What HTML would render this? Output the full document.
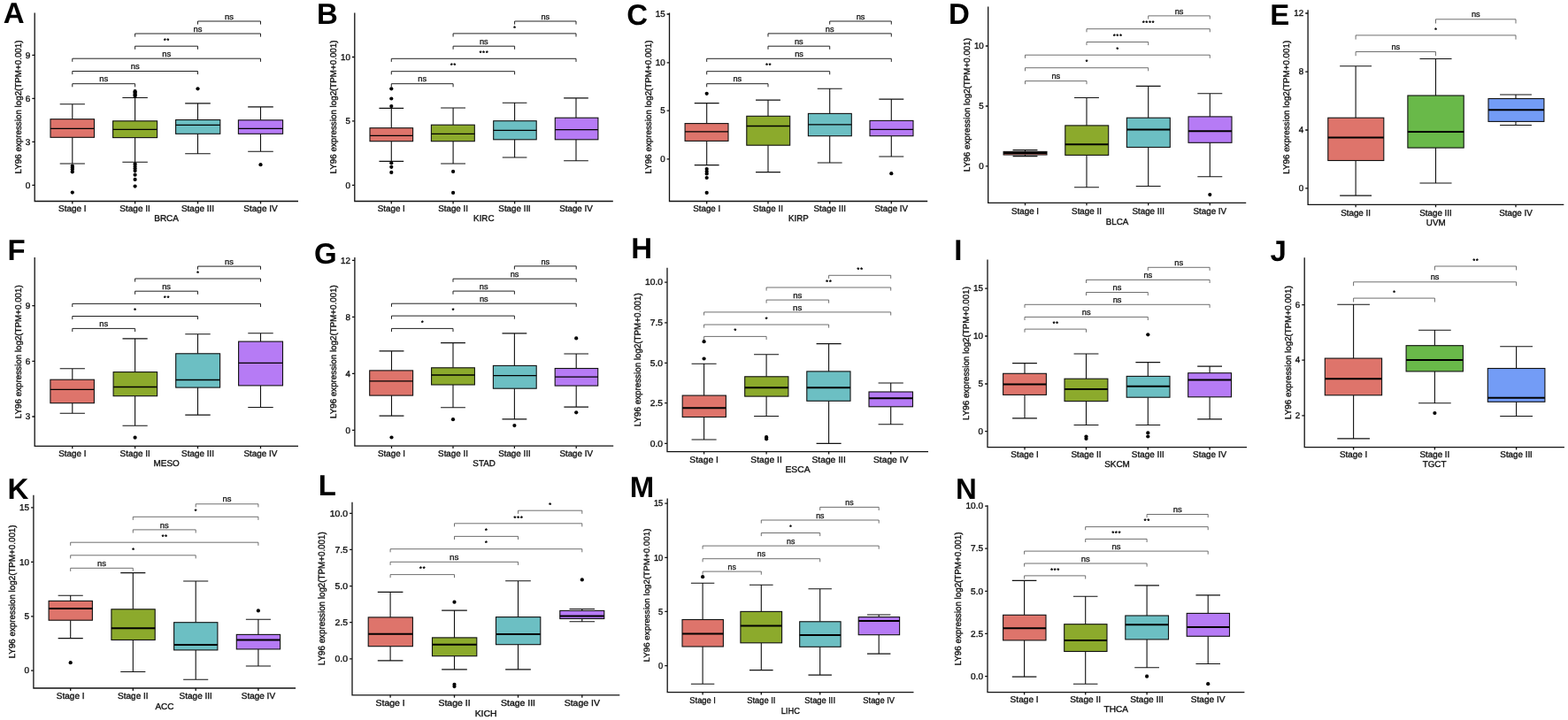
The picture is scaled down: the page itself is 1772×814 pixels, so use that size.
<!DOCTYPE html>
<html><head><meta charset="utf-8"><title>LY96 expression by stage</title>
<style>
html,body{margin:0;padding:0;background:#fff;}
body{width:1772px;height:814px;overflow:hidden;}
svg{display:block;text-rendering:geometricPrecision;}
.lt{font-family:"Liberation Sans",Arial,sans-serif;font-weight:bold;font-size:33px;fill:#000;}
.tk{font-family:"Liberation Sans",Arial,sans-serif;font-size:9.8px;fill:#111;stroke:#111;stroke-width:0.35px;}
.bl{font-family:"Liberation Sans",Arial,sans-serif;font-size:9.2px;fill:#111;stroke:#111;stroke-width:0.3px;}
.st{font-family:"Liberation Sans",Arial,sans-serif;font-size:6.6px;letter-spacing:1.0px;fill:#111;stroke:#111;stroke-width:0.4px;}
.ax{fill:none;stroke:#111;stroke-width:1.3;}
.wk{fill:none;stroke:#111;stroke-width:1.1;}
.bx{stroke:#111;stroke-width:1.1;}
</style></head>
<body>
<svg width="1772" height="814" viewBox="0 0 1772 814">
<rect width="1772" height="814" fill="#fff"/>
<text x="3.81" y="26.4" class="lt">A</text>
<path d="M39.2 14.4V227.5H337" class="ax"/>
<text transform="translate(34.3 212.5) scale(1.02 1)" class="tk" text-anchor="end">0</text>
<text transform="translate(34.3 163.5) scale(1.02 1)" class="tk" text-anchor="end">3</text>
<text transform="translate(34.3 114.6) scale(1.02 1)" class="tk" text-anchor="end">6</text>
<text transform="translate(34.3 65.6) scale(1.02 1)" class="tk" text-anchor="end">9</text>
<path d="M36.3 209.3H39.2M36.3 160.3H39.2M36.3 111.4H39.2M36.3 62.4H39.2M81.8 227.5V230.4M152.6 227.5V230.4M223.5 227.5V230.4M294.5 227.5V230.4" class="ax"/>
<text transform="translate(23.54 120.95) rotate(-90) scale(1 1.02)" class="tk" text-anchor="middle">LY96 expression log2(TPM+0.001)</text>
<text transform="translate(81.8 238.7) scale(1.02 1)" class="tk" text-anchor="middle">Stage I</text>
<text transform="translate(152.6 238.7) scale(1.02 1)" class="tk" text-anchor="middle">Stage II</text>
<text transform="translate(223.5 238.7) scale(1.02 1)" class="tk" text-anchor="middle">Stage III</text>
<text transform="translate(294.5 238.7) scale(1.02 1)" class="tk" text-anchor="middle">Stage IV</text>
<text transform="translate(188.1 250.4) scale(1.02 1)" class="tk" text-anchor="middle">BRCA</text>
<path d="M81.8 117.7V134.7M81.8 155.3V185M67.69 117.7H95.91M67.69 185H95.91" class="wk"/>
<rect x="57" y="134.7" width="49.5" height="20.6" fill="#DE746B" class="bx"/>
<path d="M57 145.4H106.5" stroke="#000" stroke-width="1.3"/>
<circle cx="81.8" cy="187.6" r="2.1"/>
<circle cx="81.8" cy="189.6" r="2.1"/>
<circle cx="81.8" cy="191.5" r="2.1"/>
<circle cx="81.8" cy="194.3" r="2.1"/>
<circle cx="81.8" cy="217.6" r="2.1"/>
<path d="M152.6 110.5V136.8M152.6 155.6V183.3M138.35 110.5H166.85M138.35 183.3H166.85" class="wk"/>
<rect x="127.6" y="136.8" width="50" height="18.8" fill="#8CAA2C" class="bx"/>
<path d="M127.6 146.3H177.6" stroke="#000" stroke-width="1.3"/>
<circle cx="152.6" cy="103.2" r="2.1"/>
<circle cx="152.6" cy="104.5" r="2.1"/>
<circle cx="152.6" cy="105.9" r="2.1"/>
<circle cx="152.6" cy="107.3" r="2.1"/>
<circle cx="152.6" cy="108.7" r="2.1"/>
<circle cx="152.6" cy="185.3" r="2.1"/>
<circle cx="152.6" cy="187.9" r="2.1"/>
<circle cx="152.6" cy="190.5" r="2.1"/>
<circle cx="152.6" cy="193.1" r="2.1"/>
<circle cx="152.6" cy="197.7" r="2.1"/>
<circle cx="152.6" cy="202.9" r="2.1"/>
<circle cx="152.6" cy="210.6" r="2.1"/>
<path d="M223.5 116.9V135.5M223.5 151.3V173.8M209.19 116.9H237.81M209.19 173.8H237.81" class="wk"/>
<rect x="198.6" y="135.5" width="50.2" height="15.8" fill="#6CBFC3" class="bx"/>
<path d="M198.6 141.3H248.8" stroke="#000" stroke-width="1.3"/>
<circle cx="223.5" cy="100.3" r="2.1"/>
<path d="M294.5 120.9V135.8M294.5 151.3V171.2M280.19 120.9H308.81M280.19 171.2H308.81" class="wk"/>
<rect x="269.4" y="135.8" width="50.2" height="15.5" fill="#B67BF5" class="bx"/>
<path d="M269.4 145.3H319.6" stroke="#000" stroke-width="1.3"/>
<circle cx="294.5" cy="186.2" r="2.1"/>
<path d="M81.8 98.3V94.7H152.6V98.3" fill="none" stroke="#222" stroke-width="1"/>
<text transform="translate(117.2 92.3) scale(1.02 1)" class="bl" text-anchor="middle">ns</text>
<path d="M81.8 84.1V80.5H223.5V84.1" fill="none" stroke="#222" stroke-width="1"/>
<text transform="translate(152.65 78.1) scale(1.02 1)" class="bl" text-anchor="middle">ns</text>
<path d="M81.8 69.8V66.2H294.5V69.8" fill="none" stroke="#222" stroke-width="1"/>
<text transform="translate(188.15 63.8) scale(1.02 1)" class="bl" text-anchor="middle">ns</text>
<path d="M152.6 55.8V52.2H223.5V55.8" fill="none" stroke="#222" stroke-width="1"/>
<text transform="translate(188.55 47.9) scale(1.02 1)" class="st" text-anchor="middle">**</text>
<path d="M152.6 41.6V38H294.5V41.6" fill="none" stroke="#222" stroke-width="1"/>
<text transform="translate(223.55 35.6) scale(1.02 1)" class="bl" text-anchor="middle">ns</text>
<path d="M223.5 27.6V24H294.5V27.6" fill="none" stroke="#222" stroke-width="1"/>
<text transform="translate(259 21.6) scale(1.02 1)" class="bl" text-anchor="middle">ns</text>
<text x="358.09" y="27.2" class="lt">B</text>
<path d="M400.8 14.4V227.5H692.8" class="ax"/>
<text transform="translate(395.9 212.5)" class="tk" text-anchor="end">0</text>
<text transform="translate(395.9 140)" class="tk" text-anchor="end">5</text>
<text transform="translate(395.9 67.7)" class="tk" text-anchor="end">10</text>
<path d="M397.9 209.3H400.8M397.9 136.8H400.8M397.9 64.5H400.8M442.3 227.5V230.4M512.1 227.5V230.4M581.6 227.5V230.4M651 227.5V230.4" class="ax"/>
<text transform="translate(379.8 120.95) rotate(-90)" class="tk" text-anchor="middle">LY96 expression log2(TPM+0.001)</text>
<text transform="translate(442.3 238.7)" class="tk" text-anchor="middle">Stage I</text>
<text transform="translate(512.1 238.7)" class="tk" text-anchor="middle">Stage II</text>
<text transform="translate(581.6 238.7)" class="tk" text-anchor="middle">Stage III</text>
<text transform="translate(651 238.7)" class="tk" text-anchor="middle">Stage IV</text>
<text transform="translate(546.8 250.4)" class="tk" text-anchor="middle">KIRC</text>
<path d="M442.3 122.4V144.7M442.3 159.7V182.4M428.45 122.4H456.15M428.45 182.4H456.15" class="wk"/>
<rect x="418" y="144.7" width="48.6" height="15" fill="#DE746B" class="bx"/>
<path d="M418 153.4H466.6" stroke="#000" stroke-width="1.3"/>
<circle cx="442.3" cy="100.3" r="2.1"/>
<circle cx="442.3" cy="111.5" r="2.1"/>
<circle cx="442.3" cy="120.1" r="2.1"/>
<circle cx="442.3" cy="184.3" r="2.1"/>
<circle cx="442.3" cy="188.8" r="2.1"/>
<circle cx="442.3" cy="194.9" r="2.1"/>
<path d="M512.1 122V141.2M512.1 159.7V185M498.16 122H526.04M498.16 185H526.04" class="wk"/>
<rect x="487.4" y="141.2" width="48.9" height="18.5" fill="#8CAA2C" class="bx"/>
<path d="M487.4 151.4H536.3" stroke="#000" stroke-width="1.3"/>
<circle cx="512.1" cy="193.9" r="2.1"/>
<circle cx="512.1" cy="217.9" r="2.1"/>
<path d="M581.6 116.3V136.7M581.6 157.8V178M567.78 116.3H595.42M567.78 178H595.42" class="wk"/>
<rect x="557.7" y="136.7" width="48.5" height="21.1" fill="#6CBFC3" class="bx"/>
<path d="M557.7 147.3H606.2" stroke="#000" stroke-width="1.3"/>
<path d="M651 110.9V133.2M651 157.8V181.8M637.15 110.9H664.85M637.15 181.8H664.85" class="wk"/>
<rect x="627.3" y="133.2" width="48.6" height="24.6" fill="#B67BF5" class="bx"/>
<path d="M627.3 146.6H675.9" stroke="#000" stroke-width="1.3"/>
<path d="M442.3 98.3V94.7H512.1V98.3" fill="none" stroke="#222" stroke-width="1"/>
<text transform="translate(477.2 92.3)" class="bl" text-anchor="middle">ns</text>
<path d="M442.3 84.3V80.7H581.6V84.3" fill="none" stroke="#222" stroke-width="1"/>
<text transform="translate(512.45 76.4)" class="st" text-anchor="middle">**</text>
<path d="M442.3 69.9V66.3H651V69.9" fill="none" stroke="#222" stroke-width="1"/>
<text transform="translate(547.15 62)" class="st" text-anchor="middle">***</text>
<path d="M512.1 55.8V52.2H581.6V55.8" fill="none" stroke="#222" stroke-width="1"/>
<text transform="translate(546.85 49.8)" class="bl" text-anchor="middle">ns</text>
<path d="M512.1 41.5V37.9H651V41.5" fill="none" stroke="#222" stroke-width="1"/>
<text transform="translate(582.05 33.6)" class="st" text-anchor="middle">*</text>
<path d="M581.6 27.6V24H651V27.6" fill="none" stroke="#222" stroke-width="1"/>
<text transform="translate(616.3 21.6)" class="bl" text-anchor="middle">ns</text>
<text x="708.28" y="28" class="lt">C</text>
<path d="M756.5 14.4V227.5H1048.2" class="ax"/>
<text transform="translate(751.6 183.1)" class="tk" text-anchor="end">0</text>
<text transform="translate(751.6 128.4)" class="tk" text-anchor="end">5</text>
<text transform="translate(751.6 74.1)" class="tk" text-anchor="end">10</text>
<text transform="translate(751.6 19.2)" class="tk" text-anchor="end">15</text>
<path d="M753.6 179.9H756.5M753.6 125.2H756.5M753.6 70.9H756.5M753.6 16H756.5M798.7 227.5V230.4M868 227.5V230.4M937.7 227.5V230.4M1007.3 227.5V230.4" class="ax"/>
<text transform="translate(735.5 120.95) rotate(-90)" class="tk" text-anchor="middle">LY96 expression log2(TPM+0.001)</text>
<text transform="translate(798.7 238.7)" class="tk" text-anchor="middle">Stage I</text>
<text transform="translate(868 238.7)" class="tk" text-anchor="middle">Stage II</text>
<text transform="translate(937.7 238.7)" class="tk" text-anchor="middle">Stage III</text>
<text transform="translate(1007.3 238.7)" class="tk" text-anchor="middle">Stage IV</text>
<text transform="translate(902.35 250.4)" class="tk" text-anchor="middle">KIRP</text>
<path d="M798.7 116.6V139.6M798.7 159.4V186.6M784.76 116.6H812.64M784.76 186.6H812.64" class="wk"/>
<rect x="774.1" y="139.6" width="48.9" height="19.8" fill="#DE746B" class="bx"/>
<path d="M774.1 148.9H823" stroke="#000" stroke-width="1.3"/>
<circle cx="798.7" cy="105.8" r="2.1"/>
<circle cx="798.7" cy="191" r="2.1"/>
<circle cx="798.7" cy="193.9" r="2.1"/>
<circle cx="798.7" cy="196.5" r="2.1"/>
<circle cx="798.7" cy="201" r="2.1"/>
<circle cx="798.7" cy="217.9" r="2.1"/>
<path d="M868 113.1V131.3M868 164.2V194.6M854.06 113.1H881.94M854.06 194.6H881.94" class="wk"/>
<rect x="843.8" y="131.3" width="48.9" height="32.9" fill="#8CAA2C" class="bx"/>
<path d="M843.8 142.5H892.7" stroke="#000" stroke-width="1.3"/>
<path d="M937.7 100.3V128.4M937.7 153.7V184M923.76 100.3H951.64M923.76 184H951.64" class="wk"/>
<rect x="913.4" y="128.4" width="48.9" height="25.3" fill="#6CBFC3" class="bx"/>
<path d="M913.4 140.9H962.3" stroke="#000" stroke-width="1.3"/>
<path d="M1007.3 112.1V136.4M1007.3 153.7V177M993.33 112.1H1021.26M993.33 177H1021.26" class="wk"/>
<rect x="983" y="136.4" width="49" height="17.3" fill="#B67BF5" class="bx"/>
<path d="M983 146.3H1032" stroke="#000" stroke-width="1.3"/>
<circle cx="1007.3" cy="196.2" r="2.1"/>
<path d="M798.7 98.3V94.7H868V98.3" fill="none" stroke="#222" stroke-width="1"/>
<text transform="translate(833.35 92.3)" class="bl" text-anchor="middle">ns</text>
<path d="M798.7 84.3V80.7H937.7V84.3" fill="none" stroke="#222" stroke-width="1"/>
<text transform="translate(868.7 76.4)" class="st" text-anchor="middle">**</text>
<path d="M798.7 69.9V66.3H1007.3V69.9" fill="none" stroke="#222" stroke-width="1"/>
<text transform="translate(903 63.9)" class="bl" text-anchor="middle">ns</text>
<path d="M868 55.8V52.2H937.7V55.8" fill="none" stroke="#222" stroke-width="1"/>
<text transform="translate(902.85 49.8)" class="bl" text-anchor="middle">ns</text>
<path d="M868 41.5V37.9H1007.3V41.5" fill="none" stroke="#222" stroke-width="1"/>
<text transform="translate(937.65 35.5)" class="bl" text-anchor="middle">ns</text>
<path d="M937.7 27.6V24H1007.3V27.6" fill="none" stroke="#222" stroke-width="1"/>
<text transform="translate(972.5 21.6)" class="bl" text-anchor="middle">ns</text>
<text x="1072.09" y="27.2" class="lt">D</text>
<path d="M1116.7 7.5V229.4H1408.2" class="ax"/>
<text transform="translate(1111.8 191.1)" class="tk" text-anchor="end">0</text>
<text transform="translate(1111.8 123.2)" class="tk" text-anchor="end">5</text>
<text transform="translate(1111.8 55.2)" class="tk" text-anchor="end">10</text>
<path d="M1113.8 187.9H1116.7M1113.8 120H1116.7M1113.8 52H1116.7M1158.5 229.4V232.3M1228 229.4V232.3M1297.7 229.4V232.3M1367.3 229.4V232.3" class="ax"/>
<text transform="translate(1095.7 118.45) rotate(-90)" class="tk" text-anchor="middle">LY96 expression log2(TPM+0.001)</text>
<text transform="translate(1158.5 241.9)" class="tk" text-anchor="middle">Stage I</text>
<text transform="translate(1228 241.9)" class="tk" text-anchor="middle">Stage II</text>
<text transform="translate(1297.7 241.9)" class="tk" text-anchor="middle">Stage III</text>
<text transform="translate(1367.3 241.9)" class="tk" text-anchor="middle">Stage IV</text>
<text transform="translate(1262.45 254)" class="tk" text-anchor="middle">BLCA</text>
<path d="M1158.5 169.6V171.4M1158.5 175V176.6M1144.56 169.6H1172.44M1144.56 176.6H1172.44" class="wk"/>
<rect x="1134.1" y="171.4" width="48.9" height="3.6" fill="#DE746B" class="bx"/>
<path d="M1134.1 173H1183" stroke="#000" stroke-width="2"/>
<path d="M1228 110.5V141.9M1228 175.4V211.8M1214.06 110.5H1241.94M1214.06 211.8H1241.94" class="wk"/>
<rect x="1203.8" y="141.9" width="48.9" height="33.5" fill="#8CAA2C" class="bx"/>
<path d="M1203.8 163.3H1252.7" stroke="#000" stroke-width="2"/>
<path d="M1297.7 97.4V133.2M1297.7 166.5V210.5M1283.76 97.4H1311.64M1283.76 210.5H1311.64" class="wk"/>
<rect x="1273.4" y="133.2" width="48.9" height="33.3" fill="#6CBFC3" class="bx"/>
<path d="M1273.4 146.6H1322.3" stroke="#000" stroke-width="2"/>
<path d="M1367.3 105.8V131.9M1367.3 161.3V199.7M1353.34 105.8H1381.26M1353.34 199.7H1381.26" class="wk"/>
<rect x="1343" y="131.9" width="49" height="29.4" fill="#B67BF5" class="bx"/>
<path d="M1343 148.2H1392" stroke="#000" stroke-width="2"/>
<circle cx="1367.3" cy="220.1" r="2.1"/>
<path d="M1158.5 95.2V91.6H1228V95.2" fill="none" stroke="#555" stroke-width="0.85"/>
<text transform="translate(1193.25 89.2)" class="bl" text-anchor="middle">ns</text>
<path d="M1158.5 80.3V76.7H1297.7V80.3" fill="none" stroke="#555" stroke-width="0.85"/>
<text transform="translate(1228.6 72.4)" class="st" text-anchor="middle">*</text>
<path d="M1158.5 65.8V62.2H1367.3V65.8" fill="none" stroke="#555" stroke-width="0.85"/>
<text transform="translate(1263.4 57.9)" class="st" text-anchor="middle">*</text>
<path d="M1228 51.1V47.5H1297.7V51.1" fill="none" stroke="#555" stroke-width="0.85"/>
<text transform="translate(1263.35 43.2)" class="st" text-anchor="middle">***</text>
<path d="M1228 36.3V32.7H1367.3V36.3" fill="none" stroke="#555" stroke-width="0.85"/>
<text transform="translate(1298.15 28.4)" class="st" text-anchor="middle">****</text>
<path d="M1297.7 21.5V17.9H1367.3V21.5" fill="none" stroke="#555" stroke-width="0.85"/>
<text transform="translate(1332.5 15.5)" class="bl" text-anchor="middle">ns</text>
<text x="1435.29" y="28.1" class="lt">E</text>
<path d="M1478.1 11.2V231.3H1767.3" class="ax"/>
<text transform="translate(1473.2 216)" class="tk" text-anchor="end">0</text>
<text transform="translate(1473.2 150.2)" class="tk" text-anchor="end">4</text>
<text transform="translate(1473.2 84.4)" class="tk" text-anchor="end">8</text>
<text transform="translate(1473.2 18.2)" class="tk" text-anchor="end">12</text>
<path d="M1475.2 212.8H1478.1M1475.2 147H1478.1M1475.2 81.2H1478.1M1475.2 15H1478.1M1532.1 231.3V234.2M1622.5 231.3V234.2M1713 231.3V234.2" class="ax"/>
<text transform="translate(1457.1 121.25) rotate(-90)" class="tk" text-anchor="middle">LY96 expression log2(TPM+0.001)</text>
<text transform="translate(1532.1 243.5)" class="tk" text-anchor="middle">Stage II</text>
<text transform="translate(1622.5 243.5)" class="tk" text-anchor="middle">Stage III</text>
<text transform="translate(1713 243.5)" class="tk" text-anchor="middle">Stage IV</text>
<text transform="translate(1622.7 255)" class="tk" text-anchor="middle">UVM</text>
<path d="M1532.1 74.8V133.2M1532.1 181.5V221.1M1514.14 74.8H1550.05M1514.14 221.1H1550.05" class="wk"/>
<rect x="1500.8" y="133.2" width="63" height="48.3" fill="#DE746B" class="bx"/>
<path d="M1500.8 155.6H1563.8" stroke="#000" stroke-width="2"/>
<path d="M1622.5 66.5V108M1622.5 167.1V207M1604.46 66.5H1640.54M1604.46 207H1640.54" class="wk"/>
<rect x="1590.9" y="108" width="63.3" height="59.1" fill="#69B949" class="bx"/>
<path d="M1590.9 148.9H1654.2" stroke="#000" stroke-width="2"/>
<path d="M1713 107V111.5M1713 137.4V141.5M1695.07 107H1730.93M1695.07 141.5H1730.93" class="wk"/>
<rect x="1682" y="111.5" width="62.9" height="25.9" fill="#739CF6" class="bx"/>
<path d="M1682 124.3H1744.9" stroke="#000" stroke-width="2"/>
<path d="M1532.1 63.2V58.5H1622.5V63.2" fill="none" stroke="#555" stroke-width="0.85"/>
<text transform="translate(1577.3 56.1)" class="bl" text-anchor="middle">ns</text>
<path d="M1532.1 44.6V39.9H1713V44.6" fill="none" stroke="#555" stroke-width="0.85"/>
<text transform="translate(1623.05 35.6)" class="st" text-anchor="middle">*</text>
<path d="M1622.5 26.5V21.8H1713V26.5" fill="none" stroke="#555" stroke-width="0.85"/>
<text transform="translate(1667.75 19.4)" class="bl" text-anchor="middle">ns</text>
<text x="8.59" y="293.5" class="lt">F</text>
<path d="M39.2 291.1V504.3H337" class="ax"/>
<text transform="translate(34.3 474.2) scale(1.01 1)" class="tk" text-anchor="end">3</text>
<text transform="translate(34.3 411.6) scale(1.01 1)" class="tk" text-anchor="end">6</text>
<text transform="translate(34.3 348.9) scale(1.01 1)" class="tk" text-anchor="end">9</text>
<path d="M36.3 471H39.2M36.3 408.4H39.2M36.3 345.7H39.2M81.8 504.3V507.2M152.6 504.3V507.2M223.5 504.3V507.2M294.5 504.3V507.2" class="ax"/>
<text transform="translate(23.6 397.7) rotate(-90) scale(1 1.01)" class="tk" text-anchor="middle">LY96 expression log2(TPM+0.001)</text>
<text transform="translate(81.8 515.5) scale(1.01 1)" class="tk" text-anchor="middle">Stage I</text>
<text transform="translate(152.6 515.5) scale(1.01 1)" class="tk" text-anchor="middle">Stage II</text>
<text transform="translate(223.5 515.5) scale(1.01 1)" class="tk" text-anchor="middle">Stage III</text>
<text transform="translate(294.5 515.5) scale(1.01 1)" class="tk" text-anchor="middle">Stage IV</text>
<text transform="translate(188.1 527) scale(1.01 1)" class="tk" text-anchor="middle">MESO</text>
<path d="M81.8 416.7V429.2M81.8 455.7V467.2M67.69 416.7H95.91M67.69 467.2H95.91" class="wk"/>
<rect x="56.9" y="429.2" width="49.5" height="26.5" fill="#DE746B" class="bx"/>
<path d="M56.9 440.4H106.4" stroke="#000" stroke-width="1.3"/>
<path d="M152.6 382.9V420.6M152.6 447.7V481.3M138.49 382.9H166.71M138.49 481.3H166.71" class="wk"/>
<rect x="128.1" y="420.6" width="49.5" height="27.1" fill="#8CAA2C" class="bx"/>
<path d="M128.1 437.5H177.6" stroke="#000" stroke-width="1.3"/>
<circle cx="152.6" cy="494.7" r="2.1"/>
<path d="M223.5 377.8V399.8M223.5 438.1V469.1M209.28 377.8H237.72M209.28 469.1H237.72" class="wk"/>
<rect x="198.7" y="399.8" width="49.9" height="38.3" fill="#6CBFC3" class="bx"/>
<path d="M198.7 429.5H248.6" stroke="#000" stroke-width="1.3"/>
<path d="M294.5 376.8V386.1M294.5 435.9V460.5M280.28 376.8H308.72M280.28 460.5H308.72" class="wk"/>
<rect x="269.6" y="386.1" width="49.9" height="49.8" fill="#B67BF5" class="bx"/>
<path d="M269.6 410.4H319.5" stroke="#000" stroke-width="1.3"/>
<path d="M81.8 375V371.4H152.6V375" fill="none" stroke="#222" stroke-width="1"/>
<text transform="translate(117.2 369) scale(1.01 1)" class="bl" text-anchor="middle">ns</text>
<path d="M81.8 361.1V357.5H223.5V361.1" fill="none" stroke="#222" stroke-width="1"/>
<text transform="translate(153.15 353.2) scale(1.01 1)" class="st" text-anchor="middle">*</text>
<path d="M81.8 347V343.4H294.5V347" fill="none" stroke="#222" stroke-width="1"/>
<text transform="translate(188.65 339.1) scale(1.01 1)" class="st" text-anchor="middle">**</text>
<path d="M152.6 332.8V329.2H223.5V332.8" fill="none" stroke="#222" stroke-width="1"/>
<text transform="translate(188.05 326.8) scale(1.01 1)" class="bl" text-anchor="middle">ns</text>
<path d="M152.6 318.6V315H294.5V318.6" fill="none" stroke="#222" stroke-width="1"/>
<text transform="translate(224.05 310.7) scale(1.01 1)" class="st" text-anchor="middle">*</text>
<path d="M223.5 304.7V301.1H294.5V304.7" fill="none" stroke="#222" stroke-width="1"/>
<text transform="translate(259 298.7) scale(1.01 1)" class="bl" text-anchor="middle">ns</text>
<text x="354.88" y="297.8" class="lt">G</text>
<path d="M400.9 291V504.2H693.2" class="ax"/>
<text transform="translate(396 489.5)" class="tk" text-anchor="end">0</text>
<text transform="translate(396 425.5)" class="tk" text-anchor="end">4</text>
<text transform="translate(396 361.5)" class="tk" text-anchor="end">8</text>
<text transform="translate(396 297.6)" class="tk" text-anchor="end">12</text>
<path d="M398 486.3H400.9M398 422.3H400.9M398 358.3H400.9M398 294.4H400.9M442.5 504.2V507.1M512 504.2V507.1M581.4 504.2V507.1M651.2 504.2V507.1" class="ax"/>
<text transform="translate(379.9 397.6) rotate(-90)" class="tk" text-anchor="middle">LY96 expression log2(TPM+0.001)</text>
<text transform="translate(442.5 515.9)" class="tk" text-anchor="middle">Stage I</text>
<text transform="translate(512 515.9)" class="tk" text-anchor="middle">Stage II</text>
<text transform="translate(581.4 515.9)" class="tk" text-anchor="middle">Stage III</text>
<text transform="translate(651.2 515.9)" class="tk" text-anchor="middle">Stage IV</text>
<text transform="translate(547.05 527.3)" class="tk" text-anchor="middle">STAD</text>
<path d="M442.5 396.9V418.9M442.5 447.1V470.1M428.56 396.9H456.44M428.56 470.1H456.44" class="wk"/>
<rect x="417.7" y="418.9" width="48.9" height="28.2" fill="#DE746B" class="bx"/>
<path d="M417.7 430.9H466.6" stroke="#000" stroke-width="1.3"/>
<circle cx="442.5" cy="494.5" r="2.1"/>
<path d="M512 387.6V415.8M512 435V460.8M498.09 387.6H525.91M498.09 460.8H525.91" class="wk"/>
<rect x="487.6" y="415.8" width="48.8" height="19.2" fill="#8CAA2C" class="bx"/>
<path d="M487.6 424H536.4" stroke="#000" stroke-width="1.3"/>
<circle cx="512" cy="474.2" r="2.1"/>
<path d="M581.4 376.9V413.4M581.4 439.2V473.9M567.49 376.9H595.31M567.49 473.9H595.31" class="wk"/>
<rect x="557.4" y="413.4" width="48.8" height="25.8" fill="#6CBFC3" class="bx"/>
<path d="M557.4 424.7H606.2" stroke="#000" stroke-width="1.3"/>
<circle cx="581.4" cy="481.1" r="2.1"/>
<path d="M651.2 400V416.5M651.2 436.1V460.1M637.38 400H665.02M637.38 460.1H665.02" class="wk"/>
<rect x="627.2" y="416.5" width="48.5" height="19.6" fill="#B67BF5" class="bx"/>
<path d="M627.2 426.1H675.7" stroke="#000" stroke-width="1.3"/>
<circle cx="651.2" cy="382.4" r="2.1"/>
<circle cx="651.2" cy="466.3" r="2.1"/>
<path d="M442.5 375V371.4H512V375" fill="none" stroke="#222" stroke-width="1"/>
<text transform="translate(477.75 367.1)" class="st" text-anchor="middle">*</text>
<path d="M442.5 360.7V357.1H581.4V360.7" fill="none" stroke="#222" stroke-width="1"/>
<text transform="translate(512.45 352.8)" class="st" text-anchor="middle">*</text>
<path d="M442.5 346.8V343.2H651.2V346.8" fill="none" stroke="#222" stroke-width="1"/>
<text transform="translate(546.85 340.8)" class="bl" text-anchor="middle">ns</text>
<path d="M512 332.7V329.1H581.4V332.7" fill="none" stroke="#222" stroke-width="1"/>
<text transform="translate(546.7 326.7)" class="bl" text-anchor="middle">ns</text>
<path d="M512 318.8V315.2H651.2V318.8" fill="none" stroke="#222" stroke-width="1"/>
<text transform="translate(581.6 312.8)" class="bl" text-anchor="middle">ns</text>
<path d="M581.4 304.5V300.9H651.2V304.5" fill="none" stroke="#222" stroke-width="1"/>
<text transform="translate(616.3 298.5)" class="bl" text-anchor="middle">ns</text>
<text x="713.19" y="292.4" class="lt">H</text>
<path d="M754 302.7V510.7H1049" class="ax"/>
<text transform="translate(749.1 504.6) scale(1.05 1)" class="tk" text-anchor="end">0.0</text>
<text transform="translate(749.1 458.9) scale(1.05 1)" class="tk" text-anchor="end">2.5</text>
<text transform="translate(749.1 413.5) scale(1.05 1)" class="tk" text-anchor="end">5.0</text>
<text transform="translate(749.1 368.1) scale(1.05 1)" class="tk" text-anchor="end">7.5</text>
<text transform="translate(749.1 322.4) scale(1.05 1)" class="tk" text-anchor="end">10.0</text>
<path d="M751.1 501.4H754M751.1 455.7H754M751.1 410.3H754M751.1 364.9H754M751.1 319.2H754M795.6 510.7V513.6M866.1 510.7V513.6M936.6 510.7V513.6M1006.7 510.7V513.6" class="ax"/>
<text transform="translate(723.87 406.7) rotate(-90) scale(1 1.05)" class="tk" text-anchor="middle">LY96 expression log2(TPM+0.001)</text>
<text transform="translate(795.6 522.7) scale(1.05 1)" class="tk" text-anchor="middle">Stage I</text>
<text transform="translate(866.1 522.7) scale(1.05 1)" class="tk" text-anchor="middle">Stage II</text>
<text transform="translate(936.6 522.7) scale(1.05 1)" class="tk" text-anchor="middle">Stage III</text>
<text transform="translate(1006.7 522.7) scale(1.05 1)" class="tk" text-anchor="middle">Stage IV</text>
<text transform="translate(901.5 534.4) scale(1.05 1)" class="tk" text-anchor="middle">ESCA</text>
<path d="M795.6 411.3V447.1M795.6 471.5V497M781.58 411.3H809.62M781.58 497H809.62" class="wk"/>
<rect x="771.2" y="447.1" width="49.2" height="24.4" fill="#DE746B" class="bx"/>
<path d="M771.2 461.2H820.4" stroke="#000" stroke-width="2"/>
<circle cx="795.6" cy="386.2" r="2.1"/>
<circle cx="795.6" cy="405.5" r="2.1"/>
<path d="M866.1 400.7V425.8M866.1 448.1V470.5M852.08 400.7H880.12M852.08 470.5H880.12" class="wk"/>
<rect x="841.7" y="425.8" width="49.2" height="22.3" fill="#8CAA2C" class="bx"/>
<path d="M841.7 438.2H890.9" stroke="#000" stroke-width="2"/>
<circle cx="866.1" cy="494.2" r="2.1"/>
<circle cx="866.1" cy="496.3" r="2.1"/>
<path d="M936.6 388.6V419.9M936.6 453.3V501.4M922.58 388.6H950.62M922.58 501.4H950.62" class="wk"/>
<rect x="911.8" y="419.9" width="49.2" height="33.4" fill="#6CBFC3" class="bx"/>
<path d="M911.8 438.2H961" stroke="#000" stroke-width="2"/>
<path d="M1006.7 433V443M1006.7 459.8V479.8M992.59 433H1020.81M992.59 479.8H1020.81" class="wk"/>
<rect x="982" y="443" width="49.5" height="16.8" fill="#B67BF5" class="bx"/>
<path d="M982 450.2H1031.5" stroke="#000" stroke-width="2"/>
<path d="M795.6 384V380.4H866.1V384" fill="none" stroke="#555" stroke-width="0.85"/>
<text transform="translate(831.35 376.1) scale(1.05 1)" class="st" text-anchor="middle">*</text>
<path d="M795.6 370.6V367H936.6V370.6" fill="none" stroke="#555" stroke-width="0.85"/>
<text transform="translate(866.6 362.7) scale(1.05 1)" class="st" text-anchor="middle">*</text>
<path d="M795.6 356.5V352.9H1006.7V356.5" fill="none" stroke="#555" stroke-width="0.85"/>
<text transform="translate(901.15 350.5) scale(1.05 1)" class="bl" text-anchor="middle">ns</text>
<path d="M866.1 342.7V339.1H936.6V342.7" fill="none" stroke="#555" stroke-width="0.85"/>
<text transform="translate(901.35 336.7) scale(1.05 1)" class="bl" text-anchor="middle">ns</text>
<path d="M866.1 328.6V325H1006.7V328.6" fill="none" stroke="#555" stroke-width="0.85"/>
<text transform="translate(936.9 320.7) scale(1.05 1)" class="st" text-anchor="middle">**</text>
<path d="M936.6 314.9V311.3H1006.7V314.9" fill="none" stroke="#555" stroke-width="0.85"/>
<text transform="translate(972.15 307) scale(1.05 1)" class="st" text-anchor="middle">**</text>
<text x="1078.29" y="294.1" class="lt">I</text>
<path d="M1116 293.4V505.6H1409" class="ax"/>
<text transform="translate(1111.1 490.9) scale(1.01 1)" class="tk" text-anchor="end">0</text>
<text transform="translate(1111.1 437.2) scale(1.01 1)" class="tk" text-anchor="end">5</text>
<text transform="translate(1111.1 383.2) scale(1.01 1)" class="tk" text-anchor="end">10</text>
<text transform="translate(1111.1 329.3) scale(1.01 1)" class="tk" text-anchor="end">15</text>
<path d="M1113.1 487.7H1116M1113.1 434H1116M1113.1 380H1116M1113.1 326.1H1116M1158 505.6V508.5M1227.5 505.6V508.5M1297.3 505.6V508.5M1367.1 505.6V508.5" class="ax"/>
<text transform="translate(1094.89 399.5) rotate(-90) scale(1 1.01)" class="tk" text-anchor="middle">LY96 expression log2(TPM+0.001)</text>
<text transform="translate(1158 517) scale(1.01 1)" class="tk" text-anchor="middle">Stage I</text>
<text transform="translate(1227.5 517) scale(1.01 1)" class="tk" text-anchor="middle">Stage II</text>
<text transform="translate(1297.3 517) scale(1.01 1)" class="tk" text-anchor="middle">Stage III</text>
<text transform="translate(1367.1 517) scale(1.01 1)" class="tk" text-anchor="middle">Stage IV</text>
<text transform="translate(1262.5 528) scale(1.01 1)" class="tk" text-anchor="middle">SKCM</text>
<path d="M1158 410.6V422.3M1158 446.4V472.9M1144.09 410.6H1171.91M1144.09 472.9H1171.91" class="wk"/>
<rect x="1133.6" y="422.3" width="48.8" height="24.1" fill="#DE746B" class="bx"/>
<path d="M1133.6 434.4H1182.4" stroke="#000" stroke-width="2"/>
<path d="M1227.5 400V428.2M1227.5 453.6V480.5M1213.56 400H1241.44M1213.56 480.5H1241.44" class="wk"/>
<rect x="1203" y="428.2" width="48.9" height="25.4" fill="#8CAA2C" class="bx"/>
<path d="M1203 439.9H1251.9" stroke="#000" stroke-width="2"/>
<circle cx="1227.5" cy="493.5" r="2.1"/>
<circle cx="1227.5" cy="495.9" r="2.1"/>
<path d="M1297.3 409.6V425.4M1297.3 449.2V480.5M1283.39 409.6H1311.21M1283.39 480.5H1311.21" class="wk"/>
<rect x="1273.2" y="425.4" width="48.8" height="23.8" fill="#6CBFC3" class="bx"/>
<path d="M1273.2 436.8H1322" stroke="#000" stroke-width="2"/>
<circle cx="1297.3" cy="378.3" r="2.1"/>
<circle cx="1297.3" cy="489.4" r="2.1"/>
<circle cx="1297.3" cy="493.5" r="2.1"/>
<path d="M1367.1 414.1V421.7M1367.1 448.8V473.9M1353.19 414.1H1381.01M1353.19 473.9H1381.01" class="wk"/>
<rect x="1342.7" y="421.7" width="48.8" height="27.1" fill="#B67BF5" class="bx"/>
<path d="M1342.7 429.6H1391.5" stroke="#000" stroke-width="2"/>
<path d="M1158 375.7V372.1H1227.5V375.7" fill="none" stroke="#555" stroke-width="0.85"/>
<text transform="translate(1193.25 367.8) scale(1.01 1)" class="st" text-anchor="middle">**</text>
<path d="M1158 362V358.4H1297.3V362" fill="none" stroke="#555" stroke-width="0.85"/>
<text transform="translate(1227.65 356) scale(1.01 1)" class="bl" text-anchor="middle">ns</text>
<path d="M1158 347.9V344.3H1367.1V347.9" fill="none" stroke="#555" stroke-width="0.85"/>
<text transform="translate(1262.55 341.9) scale(1.01 1)" class="bl" text-anchor="middle">ns</text>
<path d="M1227.5 334.1V330.5H1297.3V334.1" fill="none" stroke="#555" stroke-width="0.85"/>
<text transform="translate(1262.4 328.1) scale(1.01 1)" class="bl" text-anchor="middle">ns</text>
<path d="M1227.5 320V316.4H1367.1V320" fill="none" stroke="#555" stroke-width="0.85"/>
<text transform="translate(1297.3 314) scale(1.01 1)" class="bl" text-anchor="middle">ns</text>
<path d="M1297.3 305.9V302.3H1367.1V305.9" fill="none" stroke="#555" stroke-width="0.85"/>
<text transform="translate(1332.2 299.9) scale(1.01 1)" class="bl" text-anchor="middle">ns</text>
<text x="1435.44" y="294.8" class="lt">J</text>
<path d="M1474.2 291.3V505.6H1767.9" class="ax"/>
<text transform="translate(1469.3 473)" class="tk" text-anchor="end">2</text>
<text transform="translate(1469.3 410.4)" class="tk" text-anchor="end">4</text>
<text transform="translate(1469.3 347.8)" class="tk" text-anchor="end">6</text>
<path d="M1471.3 469.8H1474.2M1471.3 407.2H1474.2M1471.3 344.6H1474.2M1529.6 505.6V508.5M1621.4 505.6V508.5M1713.6 505.6V508.5" class="ax"/>
<text transform="translate(1458.65 398.45) rotate(-90)" class="tk" text-anchor="middle">LY96 expression log2(TPM+0.001)</text>
<text transform="translate(1529.6 516.8)" class="tk" text-anchor="middle">Stage I</text>
<text transform="translate(1621.4 516.8)" class="tk" text-anchor="middle">Stage II</text>
<text transform="translate(1713.6 516.8)" class="tk" text-anchor="middle">Stage III</text>
<text transform="translate(1621.05 527.8)" class="tk" text-anchor="middle">TGCT</text>
<path d="M1529.6 344.3V405.1M1529.6 446.8V495.9M1511.27 344.3H1547.93M1511.27 495.9H1547.93" class="wk"/>
<rect x="1497.3" y="405.1" width="64.3" height="41.7" fill="#DE746B" class="bx"/>
<path d="M1497.3 428.2H1561.6" stroke="#000" stroke-width="2"/>
<path d="M1621.4 373.2V390.7M1621.4 419.9V455.7M1603.07 373.2H1639.73M1603.07 455.7H1639.73" class="wk"/>
<rect x="1589.1" y="390.7" width="64.3" height="29.2" fill="#69B949" class="bx"/>
<path d="M1589.1 406.9H1653.4" stroke="#000" stroke-width="2"/>
<circle cx="1621.4" cy="467" r="2.1"/>
<path d="M1713.6 391.7V416.5M1713.6 454.3V470.5M1695.19 391.7H1732.01M1695.19 470.5H1732.01" class="wk"/>
<rect x="1681.3" y="416.5" width="64.6" height="37.8" fill="#739CF6" class="bx"/>
<path d="M1681.3 449.8H1745.9" stroke="#000" stroke-width="2"/>
<path d="M1529.6 341.5V337.1H1621.4V341.5" fill="none" stroke="#555" stroke-width="0.85"/>
<text transform="translate(1576 332.8)" class="st" text-anchor="middle">*</text>
<path d="M1529.6 323.2V318.8H1713.6V323.2" fill="none" stroke="#555" stroke-width="0.85"/>
<text transform="translate(1621.6 316.4)" class="bl" text-anchor="middle">ns</text>
<path d="M1621.4 305.4V301H1713.6V305.4" fill="none" stroke="#555" stroke-width="0.85"/>
<text transform="translate(1668 296.7)" class="st" text-anchor="middle">**</text>
<text x="8.59" y="564.4" class="lt">K</text>
<path d="M37.9 559.8V778H334.1" class="ax"/>
<text transform="translate(33 761.4) scale(1.02 1)" class="tk" text-anchor="end">0</text>
<text transform="translate(33 700.1) scale(1.02 1)" class="tk" text-anchor="end">5</text>
<text transform="translate(33 638.5) scale(1.02 1)" class="tk" text-anchor="end">10</text>
<text transform="translate(33 577.1) scale(1.02 1)" class="tk" text-anchor="end">15</text>
<path d="M35 758.2H37.9M35 696.9H37.9M35 635.3H37.9M35 573.9H37.9M79.7 778V780.9M150.3 778V780.9M221.2 778V780.9M291.9 778V780.9" class="ax"/>
<text transform="translate(16.68 668.9) rotate(-90) scale(1 1.02)" class="tk" text-anchor="middle">LY96 expression log2(TPM+0.001)</text>
<text transform="translate(79.7 790) scale(1.02 1)" class="tk" text-anchor="middle">Stage I</text>
<text transform="translate(150.3 790) scale(1.02 1)" class="tk" text-anchor="middle">Stage II</text>
<text transform="translate(221.2 790) scale(1.02 1)" class="tk" text-anchor="middle">Stage III</text>
<text transform="translate(291.9 790) scale(1.02 1)" class="tk" text-anchor="middle">Stage IV</text>
<text transform="translate(186 802) scale(1.02 1)" class="tk" text-anchor="middle">ACC</text>
<path d="M79.7 673.3V679.4M79.7 701.2V721.6M65.65 673.3H93.75M65.65 721.6H93.75" class="wk"/>
<rect x="55.1" y="679.4" width="49.3" height="21.8" fill="#DE746B" class="bx"/>
<path d="M55.1 687.9H104.4" stroke="#000" stroke-width="2"/>
<circle cx="79.7" cy="749.2" r="2.1"/>
<path d="M150.3 647.6V688.8M150.3 723.5V759.5M136.25 647.6H164.35M136.25 759.5H164.35" class="wk"/>
<rect x="125.9" y="688.8" width="49.3" height="34.7" fill="#8CAA2C" class="bx"/>
<path d="M125.9 710.2H175.2" stroke="#000" stroke-width="2"/>
<path d="M221.2 657V703.7M221.2 734.9V768.3M207.15 657H235.25M207.15 768.3H235.25" class="wk"/>
<rect x="196.6" y="703.7" width="49.3" height="31.2" fill="#6CBFC3" class="bx"/>
<path d="M196.6 729H245.9" stroke="#000" stroke-width="2"/>
<path d="M291.9 700.2V717.4M291.9 733.9V753M277.85 700.2H305.95M277.85 753H305.95" class="wk"/>
<rect x="267.3" y="717.4" width="49.3" height="16.5" fill="#B67BF5" class="bx"/>
<path d="M267.3 723.5H316.6" stroke="#000" stroke-width="2"/>
<circle cx="291.9" cy="690.4" r="2.1"/>
<path d="M79.7 645.9V642.3H150.3V645.9" fill="none" stroke="#555" stroke-width="0.85"/>
<text transform="translate(115 639.9) scale(1.02 1)" class="bl" text-anchor="middle">ns</text>
<path d="M79.7 631.4V627.8H221.2V631.4" fill="none" stroke="#555" stroke-width="0.85"/>
<text transform="translate(150.95 623.5) scale(1.02 1)" class="st" text-anchor="middle">*</text>
<path d="M79.7 616.8V613.2H291.9V616.8" fill="none" stroke="#555" stroke-width="0.85"/>
<text transform="translate(186.3 608.9) scale(1.02 1)" class="st" text-anchor="middle">**</text>
<path d="M150.3 602.5V598.9H221.2V602.5" fill="none" stroke="#555" stroke-width="0.85"/>
<text transform="translate(185.75 596.5) scale(1.02 1)" class="bl" text-anchor="middle">ns</text>
<path d="M150.3 587.9V584.3H291.9V587.9" fill="none" stroke="#555" stroke-width="0.85"/>
<text transform="translate(221.6 580) scale(1.02 1)" class="st" text-anchor="middle">*</text>
<path d="M221.2 573.4V569.8H291.9V573.4" fill="none" stroke="#555" stroke-width="0.85"/>
<text transform="translate(256.55 567.4) scale(1.02 1)" class="bl" text-anchor="middle">ns</text>
<text x="359.69" y="560" class="lt">L</text>
<path d="M398 567.7V785.8H700.3" class="ax"/>
<text transform="translate(393.1 748.1) scale(1.07 1)" class="tk" text-anchor="end">0.0</text>
<text transform="translate(393.1 706.9) scale(1.07 1)" class="tk" text-anchor="end">2.5</text>
<text transform="translate(393.1 665.8) scale(1.07 1)" class="tk" text-anchor="end">5.0</text>
<text transform="translate(393.1 624.6) scale(1.07 1)" class="tk" text-anchor="end">7.5</text>
<text transform="translate(393.1 583.6) scale(1.07 1)" class="tk" text-anchor="end">10.0</text>
<path d="M395.1 744.9H398M395.1 703.7H398M395.1 662.6H398M395.1 621.4H398M395.1 580.4H398M441.1 785.8V788.7M513.5 785.8V788.7M585.5 785.8V788.7M657.8 785.8V788.7" class="ax"/>
<text transform="translate(367.49 676.75) rotate(-90) scale(1 1.07)" class="tk" text-anchor="middle">LY96 expression log2(TPM+0.001)</text>
<text transform="translate(441.1 797.6) scale(1.07 1)" class="tk" text-anchor="middle">Stage I</text>
<text transform="translate(513.5 797.6) scale(1.07 1)" class="tk" text-anchor="middle">Stage II</text>
<text transform="translate(585.5 797.6) scale(1.07 1)" class="tk" text-anchor="middle">Stage III</text>
<text transform="translate(657.8 797.6) scale(1.07 1)" class="tk" text-anchor="middle">Stage IV</text>
<text transform="translate(549.15 809.9) scale(1.07 1)" class="tk" text-anchor="middle">KICH</text>
<path d="M441.1 669.4V697.9M441.1 730.7V746.9M426.79 669.4H455.41M426.79 746.9H455.41" class="wk"/>
<rect x="416.2" y="697.9" width="50.2" height="32.8" fill="#DE746B" class="bx"/>
<path d="M416.2 716.7H466.4" stroke="#000" stroke-width="2"/>
<path d="M513.5 690.1V720.9M513.5 741.7V756.9M499.16 690.1H527.84M499.16 756.9H527.84" class="wk"/>
<rect x="488.5" y="720.9" width="50.3" height="20.8" fill="#8CAA2C" class="bx"/>
<path d="M488.5 728.7H538.8" stroke="#000" stroke-width="2"/>
<circle cx="513.5" cy="680.7" r="2.1"/>
<circle cx="513.5" cy="773.8" r="2.1"/>
<circle cx="513.5" cy="776.1" r="2.1"/>
<path d="M585.5 656.7V697.6M585.5 728.7V756.9M571.16 656.7H599.84M571.16 756.9H599.84" class="wk"/>
<rect x="560.5" y="697.6" width="50.3" height="31.1" fill="#6CBFC3" class="bx"/>
<path d="M560.5 717H610.8" stroke="#000" stroke-width="2"/>
<path d="M657.8 688.5V690.4M657.8 699.5V702.8M643.55 688.5H672.05M643.55 702.8H672.05" class="wk"/>
<rect x="632.8" y="690.4" width="50" height="9.1" fill="#B67BF5" class="bx"/>
<path d="M632.8 696.6H682.8" stroke="#000" stroke-width="2"/>
<circle cx="657.8" cy="655.4" r="2.1"/>
<path d="M441.1 653.2V649.6H513.5V653.2" fill="none" stroke="#555" stroke-width="0.85"/>
<text transform="translate(477.8 645.3) scale(1.07 1)" class="st" text-anchor="middle">**</text>
<path d="M441.1 638.9V635.3H585.5V638.9" fill="none" stroke="#555" stroke-width="0.85"/>
<text transform="translate(513.3 632.9) scale(1.07 1)" class="bl" text-anchor="middle">ns</text>
<path d="M441.1 624.3V620.7H657.8V624.3" fill="none" stroke="#555" stroke-width="0.85"/>
<text transform="translate(549.95 616.4) scale(1.07 1)" class="st" text-anchor="middle">*</text>
<path d="M513.5 610V606.4H585.5V610" fill="none" stroke="#555" stroke-width="0.85"/>
<text transform="translate(550 602.1) scale(1.07 1)" class="st" text-anchor="middle">*</text>
<path d="M513.5 595.4V591.8H657.8V595.4" fill="none" stroke="#555" stroke-width="0.85"/>
<text transform="translate(586.15 587.5) scale(1.07 1)" class="st" text-anchor="middle">***</text>
<path d="M585.5 580.8V577.2H657.8V580.8" fill="none" stroke="#555" stroke-width="0.85"/>
<text transform="translate(622.15 572.9) scale(1.07 1)" class="st" text-anchor="middle">*</text>
<text x="711.79" y="561.5" class="lt">M</text>
<path d="M754.2 563.5V782.6H1032.5" class="ax"/>
<text transform="translate(749.3 755.9) scale(0.95 1)" class="tk" text-anchor="end">0</text>
<text transform="translate(749.3 694.6) scale(0.95 1)" class="tk" text-anchor="end">5</text>
<text transform="translate(749.3 633.5) scale(0.95 1)" class="tk" text-anchor="end">10</text>
<text transform="translate(749.3 572.3) scale(0.95 1)" class="tk" text-anchor="end">15</text>
<path d="M751.3 752.7H754.2M751.3 691.4H754.2M751.3 630.3H754.2M751.3 569.1H754.2M794.1 782.6V785.5M860.3 782.6V785.5M926.7 782.6V785.5M993.2 782.6V785.5" class="ax"/>
<text transform="translate(733.75 673.05) rotate(-90) scale(1 0.95)" class="tk" text-anchor="middle">LY96 expression log2(TPM+0.001)</text>
<text transform="translate(794.1 794.8) scale(0.95 1)" class="tk" text-anchor="middle">Stage I</text>
<text transform="translate(860.3 794.8) scale(0.95 1)" class="tk" text-anchor="middle">Stage II</text>
<text transform="translate(926.7 794.8) scale(0.95 1)" class="tk" text-anchor="middle">Stage III</text>
<text transform="translate(993.2 794.8) scale(0.95 1)" class="tk" text-anchor="middle">Stage IV</text>
<text transform="translate(893.35 806.8) scale(0.95 1)" class="tk" text-anchor="middle">LIHC</text>
<path d="M794.1 659.3V700.5M794.1 731V773.2M780.88 659.3H807.32M780.88 773.2H807.32" class="wk"/>
<rect x="771" y="700.5" width="46.4" height="30.5" fill="#DE746B" class="bx"/>
<path d="M771 716.4H817.4" stroke="#000" stroke-width="2"/>
<circle cx="794.1" cy="652.2" r="2.1"/>
<path d="M860.3 661.3V691.4M860.3 726.8V757.6M846.99 661.3H873.61M846.99 757.6H873.61" class="wk"/>
<rect x="836.9" y="691.4" width="46.7" height="35.4" fill="#8CAA2C" class="bx"/>
<path d="M836.9 707.6H883.6" stroke="#000" stroke-width="2"/>
<path d="M926.7 665.8V702.8M926.7 731.3V763.1M913.48 665.8H939.92M913.48 763.1H939.92" class="wk"/>
<rect x="903.7" y="702.8" width="46.4" height="28.5" fill="#6CBFC3" class="bx"/>
<path d="M903.7 718H950.1" stroke="#000" stroke-width="2"/>
<path d="M993.2 695V697.6M993.2 717.7V739.1M979.98 695H1006.42M979.98 739.1H1006.42" class="wk"/>
<rect x="970.2" y="697.6" width="46.4" height="20.1" fill="#B67BF5" class="bx"/>
<path d="M970.2 702.1H1016.6" stroke="#000" stroke-width="2"/>
<path d="M794.1 649.7V646.1H860.3V649.7" fill="none" stroke="#555" stroke-width="0.85"/>
<text transform="translate(827.2 643.7) scale(0.95 1)" class="bl" text-anchor="middle">ns</text>
<path d="M794.1 635.3V631.7H926.7V635.3" fill="none" stroke="#555" stroke-width="0.85"/>
<text transform="translate(860.4 629.3) scale(0.95 1)" class="bl" text-anchor="middle">ns</text>
<path d="M794.1 620.7V617.1H993.2V620.7" fill="none" stroke="#555" stroke-width="0.85"/>
<text transform="translate(893.65 614.7) scale(0.95 1)" class="bl" text-anchor="middle">ns</text>
<path d="M860.3 606.1V602.5H926.7V606.1" fill="none" stroke="#555" stroke-width="0.85"/>
<text transform="translate(894 598.2) scale(0.95 1)" class="st" text-anchor="middle">*</text>
<path d="M860.3 591.6V588H993.2V591.6" fill="none" stroke="#555" stroke-width="0.85"/>
<text transform="translate(926.75 585.6) scale(0.95 1)" class="bl" text-anchor="middle">ns</text>
<path d="M926.7 577V573.4H993.2V577" fill="none" stroke="#555" stroke-width="0.85"/>
<text transform="translate(959.95 571) scale(0.95 1)" class="bl" text-anchor="middle">ns</text>
<text x="1080.09" y="563.5" class="lt">N</text>
<path d="M1116 571.3V782.6H1406.4" class="ax"/>
<text transform="translate(1111.1 767.9) scale(1.03 1)" class="tk" text-anchor="end">0.0</text>
<text transform="translate(1111.1 719.6) scale(1.03 1)" class="tk" text-anchor="end">2.5</text>
<text transform="translate(1111.1 671.6) scale(1.03 1)" class="tk" text-anchor="end">5.0</text>
<text transform="translate(1111.1 623.4) scale(1.03 1)" class="tk" text-anchor="end">7.5</text>
<text transform="translate(1111.1 575.3) scale(1.03 1)" class="tk" text-anchor="end">10.0</text>
<path d="M1113.1 764.7H1116M1113.1 716.4H1116M1113.1 668.4H1116M1113.1 620.2H1116M1113.1 572.1H1116M1157.6 782.6V785.5M1226.7 782.6V785.5M1296.1 782.6V785.5M1365.2 782.6V785.5" class="ax"/>
<text transform="translate(1086.26 676.95) rotate(-90) scale(1 1.03)" class="tk" text-anchor="middle">LY96 expression log2(TPM+0.001)</text>
<text transform="translate(1157.6 793.9) scale(1.03 1)" class="tk" text-anchor="middle">Stage I</text>
<text transform="translate(1226.7 793.9) scale(1.03 1)" class="tk" text-anchor="middle">Stage II</text>
<text transform="translate(1296.1 793.9) scale(1.03 1)" class="tk" text-anchor="middle">Stage III</text>
<text transform="translate(1365.2 793.9) scale(1.03 1)" class="tk" text-anchor="middle">Stage IV</text>
<text transform="translate(1261.2 804.6) scale(1.03 1)" class="tk" text-anchor="middle">THCA</text>
<path d="M1157.6 656.4V695.3M1157.6 723.9V765.1M1143.81 656.4H1171.39M1143.81 765.1H1171.39" class="wk"/>
<rect x="1133.6" y="695.3" width="48.4" height="28.6" fill="#DE746B" class="bx"/>
<path d="M1133.6 710.2H1182" stroke="#000" stroke-width="2"/>
<path d="M1226.7 674.2V705.7M1226.7 736.5V773.2M1212.93 674.2H1240.47M1212.93 773.2H1240.47" class="wk"/>
<rect x="1202.7" y="705.7" width="48.3" height="30.8" fill="#8CAA2C" class="bx"/>
<path d="M1202.7 723.9H1251" stroke="#000" stroke-width="2"/>
<path d="M1296.1 661.9V696M1296.1 722.9V754.7M1282.22 661.9H1309.98M1282.22 754.7H1309.98" class="wk"/>
<rect x="1271.8" y="696" width="48.7" height="26.9" fill="#6CBFC3" class="bx"/>
<path d="M1271.8 706.3H1320.5" stroke="#000" stroke-width="2"/>
<circle cx="1296.1" cy="764.7" r="2.1"/>
<path d="M1365.2 672.9V693.4M1365.2 719.3V750.5M1351.43 672.9H1378.97M1351.43 750.5H1378.97" class="wk"/>
<rect x="1341.2" y="693.4" width="48.3" height="25.9" fill="#B67BF5" class="bx"/>
<path d="M1341.2 708.9H1389.5" stroke="#000" stroke-width="2"/>
<circle cx="1365.2" cy="773.2" r="2.1"/>
<path d="M1157.6 654.5V650.9H1226.7V654.5" fill="none" stroke="#555" stroke-width="0.85"/>
<text transform="translate(1192.65 646.6) scale(1.03 1)" class="st" text-anchor="middle">***</text>
<path d="M1157.6 640.6V637H1296.1V640.6" fill="none" stroke="#555" stroke-width="0.85"/>
<text transform="translate(1226.85 634.6) scale(1.03 1)" class="bl" text-anchor="middle">ns</text>
<path d="M1157.6 626.7V623.1H1365.2V626.7" fill="none" stroke="#555" stroke-width="0.85"/>
<text transform="translate(1261.4 620.7) scale(1.03 1)" class="bl" text-anchor="middle">ns</text>
<path d="M1226.7 613V609.4H1296.1V613" fill="none" stroke="#555" stroke-width="0.85"/>
<text transform="translate(1261.9 605.1) scale(1.03 1)" class="st" text-anchor="middle">***</text>
<path d="M1226.7 599.2V595.6H1365.2V599.2" fill="none" stroke="#555" stroke-width="0.85"/>
<text transform="translate(1296.45 591.3) scale(1.03 1)" class="st" text-anchor="middle">**</text>
<path d="M1296.1 585.1V581.5H1365.2V585.1" fill="none" stroke="#555" stroke-width="0.85"/>
<text transform="translate(1330.65 579.1) scale(1.03 1)" class="bl" text-anchor="middle">ns</text>
</svg>
</body></html>
